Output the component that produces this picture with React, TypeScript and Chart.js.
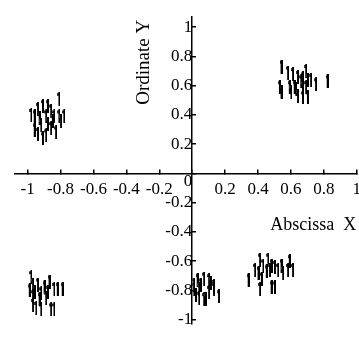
import React, { useEffect, useRef } from "react";
import { Chart, registerables } from "chart.js";

Chart.register(...registerables);

// Cluster 1 (upper left)
const cluster1X = [-0.81, -0.94, -0.91, -0.88, -0.86, -0.98, -0.96, -0.93, -0.89, -0.84, -0.81, -0.78, -0.96, -0.94, -0.91, -0.89, -0.86, -0.83, -0.85, -0.80, -0.92, -0.88];
const cluster1Y = [0.51, 0.44, 0.46, 0.46, 0.43, 0.40, 0.39, 0.38, 0.39, 0.39, 0.39, 0.39, 0.30, 0.27, 0.24, 0.26, 0.31, 0.28, 0.36, 0.36, 0.33, 0.34];
// Cluster 2 (upper right)
const cluster2X = [0.54, 0.58, 0.61, 0.64, 0.69, 0.67, 0.66, 0.70, 0.72, 0.75, 0.82, 0.53, 0.54, 0.59, 0.60, 0.63, 0.64, 0.67, 0.70, 0.67, 0.69, 0.62];
const cluster2Y = [0.73, 0.69, 0.68, 0.66, 0.70, 0.65, 0.63, 0.64, 0.64, 0.61, 0.63, 0.59, 0.56, 0.59, 0.56, 0.58, 0.53, 0.52, 0.52, 0.59, 0.59, 0.59];
// Cluster 3 (lower left)
const cluster3X = [-0.98, -0.97, -0.94, -0.87, -0.90, -0.99, -0.96, -0.92, -0.88, -0.84, -0.82, -0.79, -0.97, -0.95, -0.92, -0.86, -0.84, -0.89, -0.93, -0.97];
const cluster3Y = [-0.71, -0.76, -0.76, -0.74, -0.78, -0.80, -0.81, -0.82, -0.81, -0.79, -0.79, -0.79, -0.90, -0.92, -0.93, -0.93, -0.93, -0.85, -0.86, -0.84];
// Cluster 4 (lower right, near the axis)
const cluster4X = [0.01, 0.03, 0.05, 0.07, 0.10, 0.11, 0.13, 0.16, 0.02, 0.04, 0.07, 0.08, 0.04, 0.10, 0.01, 0.13];
const cluster4Y = [-0.76, -0.73, -0.76, -0.72, -0.73, -0.75, -0.77, -0.84, -0.83, -0.85, -0.86, -0.86, -0.79, -0.81, -0.79, -0.79];
// Cluster 5 (lower right, further out)
const cluster5X = [0.34, 0.38, 0.41, 0.43, 0.46, 0.48, 0.50, 0.52, 0.54, 0.55, 0.58, 0.59, 0.61, 0.42, 0.41, 0.48, 0.50, 0.45, 0.47, 0.40];
const cluster5Y = [-0.73, -0.66, -0.59, -0.63, -0.59, -0.63, -0.64, -0.66, -0.63, -0.68, -0.66, -0.60, -0.66, -0.72, -0.79, -0.78, -0.78, -0.67, -0.66, -0.68];

const xTickValues = [-1, -0.8, -0.6, -0.4, -0.2, 0, 0.2, 0.4, 0.6, 0.8, 1];
const xTickLabels = ["-1", "-0.8", "-0.6", "-0.4", "-0.2", "", "0.2", "0.4", "0.6", "0.8", "1"];
const yTickValues = [-1, -0.8, -0.6, -0.4, -0.2, 0, 0.2, 0.4, 0.6, 0.8, 1];
const yTickLabels = ["-1", "-0.8", "-0.6", "-0.4", "-0.2", "0", "0.2", "0.4", "0.6", "0.8", "1"];

const xTitle = "Abscissa  X";
const yTitle = "Ordinate Y";

const SERIF = "'Liberation Serif', 'Times New Roman', serif";

function zip(xs: number[], ys: number[]) {
  return xs.map((x, i) => ({ x, y: ys[i] }));
}

export default function App() {
  const ref = useRef<HTMLCanvasElement | null>(null);

  useEffect(() => {
    if (!ref.current) return;
    const marker = document.createElement("canvas");
    marker.width = 3;
    marker.height = 14;
    const mctx = marker.getContext("2d")!;
    mctx.fillStyle = "#000";
    mctx.fillRect(1, 0, 2, 14);
    mctx.fillStyle = "#333";
    mctx.fillRect(0, 1, 1, 3);

    const points = [
      ...zip(cluster1X, cluster1Y),
      ...zip(cluster2X, cluster2Y),
      ...zip(cluster3X, cluster3Y),
      ...zip(cluster4X, cluster4Y),
      ...zip(cluster5X, cluster5Y),
    ];

    const titlePlugin = {
      id: "axisTitles",
      afterDraw(chart: any) {
        const ctx = chart.ctx;
        const xs = chart.scales.x;
        const ys = chart.scales.y;
        ctx.save();
        ctx.fillStyle = "#000";
        ctx.textAlign = "center";
        ctx.textBaseline = "middle";
        ctx.font = `18px ${SERIF}`;
        ctx.fillText(xTitle, xs.getPixelForValue(0.735), ys.getPixelForValue(-0.355));
        ctx.font = `19px ${SERIF}`;
        ctx.translate(xs.getPixelForValue(-0.295), ys.getPixelForValue(0.76));
        ctx.rotate(-Math.PI / 2);
        ctx.fillText(yTitle, 0, 0);
        ctx.restore();
      },
    };

    const chart = new Chart(ref.current, {
      type: "scatter",
      data: {
        datasets: [
          {
            data: points,
            pointStyle: marker as any,
            pointRadius: 5,
            borderColor: "#000",
            backgroundColor: "#000",
          },
        ],
      },
      options: {
        responsive: false,
        animation: false,
        layout: { padding: { left: 14.5, right: 10, top: 5, bottom: 0 } },
        plugins: { legend: { display: false }, tooltip: { enabled: false } },
        scales: {
          x: {
            type: "linear",
            min: -1.08,
            max: 1.0,
            position: { y: 0 } as any,
            afterFit: (s: any) => {
              s.height = 0;
            },
            afterBuildTicks: (s: any) => {
              s.ticks = xTickValues.map((v) => ({ value: v }));
            },
            grid: {
              drawOnChartArea: false,
              drawTicks: true,
              tickLength: -5,
              color: "#000",
              lineWidth: 1.5,
            },
            border: { display: true, color: "#000", width: 1.5 },
            ticks: {
              autoSkip: false,
              maxRotation: 0,
              minRotation: 0,
              padding: 11,
              color: "#000",
              font: { family: SERIF, size: 17 },
              callback: (_v: any, i: number) => xTickLabels[i],
            },
          },
          y: {
            type: "linear",
            min: -1.03,
            max: 1.07,
            position: { x: 0 } as any,
            afterFit: (s: any) => {
              s.width = 0;
            },
            afterBuildTicks: (s: any) => {
              s.ticks = yTickValues.map((v) => ({ value: v }));
            },
            grid: {
              drawOnChartArea: false,
              drawTicks: true,
              tickLength: -5,
              color: "#000",
              lineWidth: 1.5,
            },
            border: { display: true, color: "#000", width: 1.5 },
            ticks: {
              autoSkip: false,
              padding: 9,
              color: "#000",
              font: { family: SERIF, size: 17, lineHeight: "16px" },
              callback: (_v: any, i: number) =>
                yTickValues[i] === 0 ? ["", yTickLabels[i]] : yTickLabels[i],
            },
          },
        },
      },
      plugins: [titlePlugin],
    });
    return () => chart.destroy();
  }, []);

  return (
    <div
      style={{
        position: "fixed",
        left: 0,
        top: 0,
        width: 359,
        height: 341,
        overflow: "hidden",
        background: "#fff",
      }}
    >
      <canvas ref={ref} width={372} height={341} style={{ display: "block" }} />
    </div>
  );
}
